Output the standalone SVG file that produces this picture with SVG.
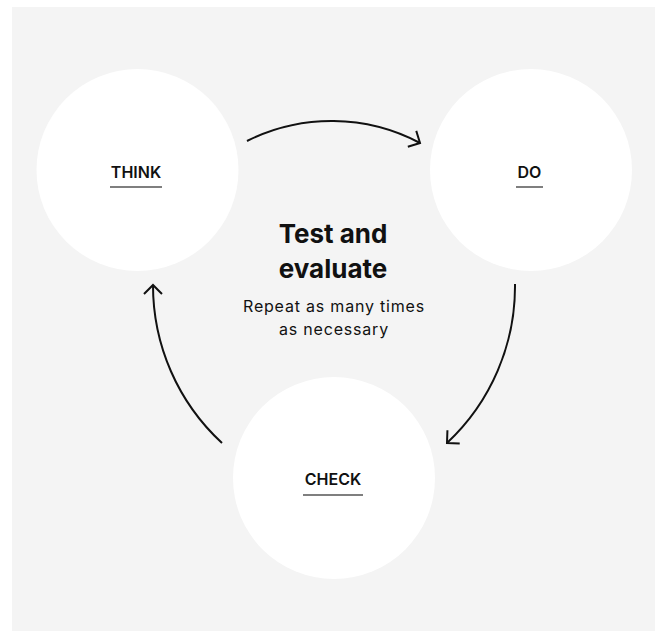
<svg xmlns="http://www.w3.org/2000/svg" width="660" height="638" viewBox="0 0 660 638">
  <defs>
    <style>
      .node circle { fill: #ffffff; }
      .label { font-family: Inter, "Liberation Sans", sans-serif; font-size: 16px; font-weight: 600; fill: #111111; text-anchor: middle; }
      .uline { stroke: #555555; stroke-width: 1.5; }
      .title { font-family: Inter, "Liberation Sans", sans-serif; font-size: 26px; font-weight: 700; fill: #111111; text-anchor: middle; }
      .sub { font-family: Inter, "Liberation Sans", sans-serif; font-size: 16px; font-weight: 400; fill: #111111; text-anchor: middle; letter-spacing: 0.8px; }
      .conn path { fill: none; stroke: #111111; stroke-width: 2; }
    </style>
    <marker id="arrow" markerUnits="userSpaceOnUse" markerWidth="24" markerHeight="24" viewBox="-12 -12 24 24" refX="0" refY="0" orient="auto">
      <path d="M-9,-9 L0,0 L-9,9" fill="none" stroke="#111111" stroke-width="2" stroke-linejoin="miter"/>
    </marker>
  </defs>
  <rect x="0" y="0" width="660" height="638" fill="#ffffff"/>
  <rect x="12" y="7" width="643" height="624" fill="#f4f4f4"/>

  <g id="think" class="node">
    <circle cx="137.5" cy="170" r="101"/>
    <text class="label" x="136" y="178">THINK</text>
    <line class="uline" x1="110" y1="187" x2="162" y2="187"/>
  </g>
  <g id="do" class="node">
    <circle cx="531" cy="170" r="101"/>
    <text class="label" x="529.5" y="178">DO</text>
    <line class="uline" x1="516" y1="187" x2="543" y2="187"/>
  </g>
  <g id="check" class="node">
    <circle cx="334" cy="478" r="101"/>
    <text class="label" x="333" y="485">CHECK</text>
    <line class="uline" x1="303" y1="495" x2="363" y2="495"/>
  </g>

  <g id="center-text">
    <text class="title" x="333" y="243">Test and</text>
    <text class="title" x="333" y="278">evaluate</text>
    <text class="sub" x="334" y="312">Repeat as many times</text>
    <text class="sub" x="334" y="335">as necessary</text>
  </g>

  <g id="connectors" class="conn">
    <path d="M247,141 A189,189 0 0 1 420,143" marker-end="url(#arrow)"/>
    <path d="M515,284 A214.5,214.5 0 0 1 447,443" marker-end="url(#arrow)"/>
    <path d="M222,443 A214.5,214.5 0 0 1 153,285" marker-end="url(#arrow)"/>
  </g>
</svg>
